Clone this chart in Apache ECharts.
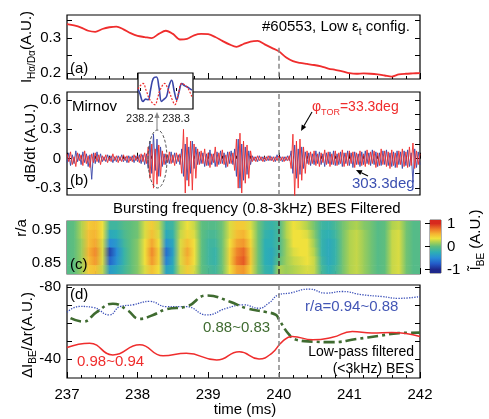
<!DOCTYPE html>
<html><head><meta charset="utf-8">
<script src="https://cdn.jsdelivr.net/npm/echarts@6/dist/echarts.min.js"></script>
<style>html,body{margin:0;padding:0;background:#fff}#c{width:489px;height:419px}</style>
</head><body><div id="c"></div>
<script>
// ---------------- DATA ----------------
const timeTicks = [237, 238, 239, 240, 241, 242];
const eventTime = 240;
const sampleTimes = [237.0,237.1,237.2,237.3,237.4,237.5,237.6,237.7,237.8,237.9,
  238.0,238.1,238.2,238.3,238.4,238.5,238.6,238.7,238.8,238.9,
  239.0,239.1,239.2,239.3,239.4,239.5,239.6,239.7,239.8,239.9,
  240.0,240.1,240.2,240.3,240.4,240.5,240.6,240.7,240.8,240.9,
  241.0,241.1,241.2,241.3,241.4,241.5,241.6,241.7,241.8,241.9,242.0];
// (a) H-alpha / D-alpha
const halphaSignal = [0.340,0.336,0.330,0.321,0.318,0.326,0.331,0.333,0.325,0.314,
  0.306,0.303,0.300,0.312,0.321,0.312,0.296,0.298,0.308,0.312,
  0.311,0.303,0.292,0.282,0.275,0.283,0.290,0.292,0.282,0.272,
  0.262,0.245,0.234,0.229,0.226,0.223,0.219,0.213,0.209,0.205,
  0.200,0.198,0.199,0.198,0.196,0.193,0.190,0.196,0.198,0.199,0.200];
// (b) Mirnov dB/dt, sampled from 237.0 ms every 0.025 ms
const mirnovStart = 237.0, mirnovStep = 0.025;
const mirnovRed = [0.05,-0.03,0.07,-0.06,0.02,-0.08,0.06,-0.02,0.04,-0.07,0.08,-0.05,0.03,-0.09,0.05,-0.04,0.06,-0.03,0.04,-0.06,
  0.03,-0.02,0.04,-0.04,0.02,-0.03,0.05,-0.02,0.03,-0.04,0.02,-0.03,0.04,-0.02,0.03,-0.04,0.02,-0.03,0.04,-0.02,
  0.03,-0.04,0.05,-0.03,0.06,-0.05,
  0.12,-0.2,0.15,-0.3,0.1,-0.26,0.14,-0.18,0.08,
  -0.06,0.05,-0.04,0.07,-0.05,0.04,-0.07,0.06,-0.03,0.05,
  -0.15,0.3,-0.35,0.22,-0.28,0.18,-0.32,0.15,-0.2,0.1,
  -0.06,0.08,-0.05,0.1,-0.07,0.06,-0.09,0.05,-0.04,0.12,-0.08,0.06,-0.05,0.09,-0.06,0.04,-0.08,0.07,-0.05,0.06,
  -0.12,0.2,-0.3,0.26,-0.35,0.18,-0.25,0.14,-0.2,0.08,
  -0.03,0.02,-0.03,0.03,-0.02,0.02,-0.03,0.02,-0.02,0.03,-0.02,0.02,-0.03,0.02,-0.02,0.03,-0.02,0.02,-0.03,0.02,-0.02,0.03,
  -0.1,0.25,-0.38,0.18,-0.3,0.2,-0.22,0.12,-0.15,0.08,
  -0.06,0.07,-0.05,0.08,-0.07,0.05,-0.08,0.06,-0.04,0.09,
  -0.06,0.07,-0.08,0.05,-0.06,0.08,-0.07,0.06,-0.05,0.09,
  -0.08,0.06,-0.07,0.08,-0.05,0.07,-0.09,0.06,-0.06,0.08,
  -0.07,0.05,-0.08,0.09,-0.06,0.07,-0.05,0.08,-0.09,0.06,
  -0.07,0.1,-0.06,0.08,-0.08,0.07,-0.1,0.09,-0.07,0.06,
  -0.09,0.08,-0.06,0.1,-0.08,0.07,-0.09,0.12,-0.07,0.16,
  -0.1,0.08,-0.06,0.05];
const mirnovBlue = [-0.04,0.06,-0.07,0.04,-0.05,0.08,-0.03,0.05,-0.06,0.07,-0.04,0.05,-0.08,0.04,-0.21,0.06,-0.05,0.07,-0.04,0.05,
  -0.03,0.02,-0.03,0.04,-0.02,0.03,-0.04,0.02,-0.03,0.03,-0.02,0.04,-0.03,0.02,-0.04,0.03,-0.02,0.03,-0.04,0.03,
  -0.03,0.04,-0.05,0.04,-0.06,0.05,
  -0.1,0.18,-0.15,0.25,-0.12,0.2,-0.18,0.12,-0.08,
  0.05,-0.06,0.04,-0.05,0.07,-0.04,0.06,-0.05,0.04,-0.06,
  0.1,-0.18,0.15,-0.22,0.12,-0.15,0.18,-0.1,0.12,-0.06,
  0.07,-0.05,0.06,-0.08,0.05,-0.07,0.09,-0.06,0.05,-0.08,0.07,-0.06,0.08,-0.05,0.06,-0.09,0.07,-0.05,0.08,-0.06,
  0.1,-0.18,0.2,-0.3,0.15,-0.22,0.12,-0.16,0.08,-0.06,
  0.03,-0.02,0.02,-0.03,0.03,-0.02,0.02,-0.03,0.02,-0.02,0.03,-0.02,0.02,-0.03,0.04,-0.02,0.02,-0.03,0.02,-0.02,0.03,-0.02,
  0.08,-0.15,0.14,-0.2,0.1,-0.16,0.12,-0.1,0.07,-0.05,
  0.06,-0.07,0.05,-0.06,0.08,-0.05,0.07,-0.06,0.05,-0.08,
  0.06,-0.05,0.07,-0.06,0.08,-0.07,0.05,-0.06,0.07,-0.08,
  0.06,-0.05,0.08,-0.07,0.06,-0.09,0.07,-0.06,0.05,-0.08,
  0.07,-0.06,0.08,-0.05,0.06,-0.07,0.09,-0.06,0.07,-0.08,
  0.06,-0.07,0.08,-0.06,0.09,-0.07,0.06,-0.08,0.07,-0.09,
  0.08,-0.06,0.07,-0.1,0.08,-0.07,0.09,-0.08,0.06,-0.24,
  0.1,-0.09,0.07,-0.06];
// inset (zoom of Mirnov burst), [time, normalised signal]
const insetRed = [[238.195,0.1],[238.199,0.24],[238.209,0.42],[238.218,0.0],[238.228,-0.49],[238.242,-0.76],[238.249,-0.4],[238.256,0.05],[238.269,0.42],[238.276,0.2],[238.283,-0.13],[238.29,-0.5],[238.297,-0.76],[238.306,-0.2],[238.316,0.42],[238.33,0.24],[238.337,0.0],[238.344,-0.31]];
const insetBlue = [[238.195,0.1],[238.2,-0.13],[238.209,-0.58],[238.216,-0.45],[238.223,-0.49],[238.23,0.1],[238.237,0.69],[238.246,0.78],[238.253,0.2],[238.26,-0.58],[238.267,-0.45],[238.274,-0.31],[238.281,0.3],[238.288,0.6],[238.295,0.0],[238.302,-0.49],[238.309,0.0],[238.316,0.42],[238.323,0.3],[238.33,0.24],[238.337,0.15],[238.344,0.05]];
const insetTicks = [238.2, 238.3];
// (c) BES filtered, rows from r/a 0.963 (top) to 0.830 (bottom), columns = sampleTimes
const heatRadius = [0.9636, 0.9369, 0.9102, 0.8835, 0.8568, 0.8301];
const heatRows = [
  [-0.05,0,0.2,0.45,0.5,0.35,-0.15,-0.15,-0.05,0, 0.05,0.3,0.45,0.25,-0.2,-0.15,0.2,0.35,0.25,0, -0.05,-0.05,0.05,0.3,0.45,0.45,0.3,0.05,-0.15,-0.2, -0.1,0.2,0.35,0.3,0.2,0.05,-0.15,-0.2,-0.1,0.05, 0.15,0.2,0.1,0.05,-0.05,0,0.2,0.25,0.05,-0.05, -0.05],
  [-0.05,0,0.2,0.5,0.55,0.35,-0.3,-0.25,-0.1,0, 0.05,0.3,0.5,0.3,-0.3,-0.2,0.25,0.4,0.3,0, -0.1,-0.1,0.05,0.3,0.5,0.55,0.35,0.05,-0.2,-0.25, -0.1,0.2,0.35,0.35,0.3,0.1,-0.2,-0.25,-0.15,0.05, 0.2,0.25,0.15,0.05,-0.05,0,0.25,0.3,0.05,-0.05, -0.05],
  [-0.05,0,0.15,0.5,0.6,0.3,-0.5,-0.4,-0.15,0, 0.1,0.35,0.6,0.35,-0.45,-0.3,0.3,0.5,0.35,0, -0.15,-0.15,0.05,0.35,0.6,0.65,0.4,0.05,-0.25,-0.25, -0.1,0.15,0.35,0.35,0.35,0.15,-0.2,-0.3,-0.2,0.05, 0.2,0.25,0.15,0.05,-0.05,0,0.25,0.3,0.05,-0.05, -0.05],
  [-0.05,0,0.15,0.55,0.7,0.3,-0.85,-0.5,-0.2,0, 0.1,0.35,0.7,0.4,-0.65,-0.35,0.3,0.6,0.35,0, -0.15,-0.2,0.05,0.4,0.7,0.8,0.45,0.05,-0.25,-0.3, -0.1,0.15,0.3,0.35,0.35,0.2,-0.2,-0.3,-0.2,0.05, 0.2,0.25,0.15,0.05,-0.05,0,0.25,0.3,0.05,-0.05, -0.05],
  [-0.05,0,0.15,0.5,0.65,0.3,-0.7,-0.45,-0.2,0, 0.1,0.35,0.65,0.4,-0.55,-0.3,0.3,0.55,0.35,0, -0.15,-0.2,0.05,0.4,0.75,0.85,0.45,0.05,-0.25,-0.3, 0,0.15,0.25,0.3,0.35,0.25,-0.15,-0.3,-0.2,0.05, 0.2,0.25,0.15,0.05,-0.05,0,0.25,0.3,0.05,-0.05, -0.05],
  [-0.05,0,0.15,0.45,0.5,0.25,-0.4,-0.3,-0.15,0, 0.1,0.3,0.5,0.35,-0.35,-0.25,0.25,0.45,0.3,0, -0.1,-0.15,0.05,0.35,0.6,0.65,0.4,0.05,-0.2,-0.25, 0.2,0.15,0.2,0.25,0.3,0.25,-0.1,-0.25,-0.15,0.05, 0.2,0.25,0.15,0.05,-0.05,0,0.25,0.3,0.05,-0.05, -0.05]
];
const colorbarTicks = [1, 0, -1];
// (d) low-pass filtered radial gradients, [time, value]
const gradBlue = [[237.0,-65.9],[237.18,-69.1],[237.37,-68.6],[237.6,-64.4],[237.75,-69],[237.93,-70],[238.17,-71.9],[238.41,-69],[238.69,-69],[238.98,-64.4],[239.26,-68.1],[239.5,-70],[239.72,-68.1],[239.86,-71],[240.0,-75.6],[240.15,-76.5],[240.43,-78.7],[240.67,-76.5],[240.9,-77.4],[241.18,-75.6],[241.46,-74.6],[241.7,-73.6],[242.0,-74.6]];
const gradGreen = [[237.05,-62.6],[237.23,-60.7],[237.42,-66],[237.65,-70.6],[237.85,-67.2],[238.03,-62.2],[238.22,-64.4],[238.41,-67.6],[238.69,-69],[238.98,-75.2],[239.3,-71.9],[239.54,-68.1],[239.82,-66],[239.96,-64.4],[240.0,-62],[240.15,-53.3],[240.25,-50.6],[240.48,-49.6],[240.76,-49.3],[241.1,-51],[241.42,-52.8],[241.7,-54.3],[242.0,-54.6]];
const gradRed = [[237.0,-46.3],[237.32,-48.7],[237.65,-42.2],[238.03,-47.8],[238.36,-41.7],[238.69,-43.1],[239.12,-39.4],[239.44,-44],[239.72,-40],[239.9,-43.1],[240.05,-49.6],[240.19,-52.4],[240.48,-50.6],[240.76,-52],[241.04,-55.2],[241.32,-54.3],[241.6,-54.6],[242.0,-52.4]];

// ---------------- STYLE ----------------
const FONT = 'Liberation Sans, Arial, Helvetica, sans-serif';
const RED = '#ef2d2d', BLUE = '#3a46a8', GREEN = '#3f6b30';
const stops = [[-1,[30,40,140]],[-0.75,[35,90,200]],[-0.5,[40,140,215]],[-0.25,[45,175,180]],[0,[95,190,125]],[0.2,[175,210,80]],[0.35,[240,225,60]],[0.55,[245,180,50]],[0.75,[238,120,40]],[1,[215,40,30]]];
function colorOf(v){
  if (v <= stops[0][0]) return 'rgb(' + stops[0][1].join(',') + ')';
  for (let i = 1; i < stops.length; i++) {
    if (v <= stops[i][0]) {
      const a = stops[i-1], b = stops[i], f = (v - a[0]) / (b[0] - a[0]);
      const c = a[1].map((x, k) => Math.round(x + (b[1][k] - x) * f));
      return 'rgb(' + c.join(',') + ')';
    }
  }
  return 'rgb(' + stops[stops.length-1][1].join(',') + ')';
}

const chart = echarts.init(document.getElementById('c'));

function grid(l, t, w, h, extra){ return Object.assign({left:l, top:t, width:w, height:h, show:true, borderColor:'#000', borderWidth:1.2, backgroundColor:'transparent', containLabel:false, outerBoundsMode:'none'}, extra||{}); }
function xAx(g, showLabels){ return {type:'value', gridIndex:g, min:237, max:242, interval:1,
  axisLine:{show:false}, splitLine:{show:false},
  axisTick:{show:true, inside:true, length:6, lineStyle:{color:'#000', width:1}},
  minorTick:{show:true, splitNumber:5, length:3, lineStyle:{color:'#000', width:1}},
  axisLabel:{show:showLabels, fontSize:15, color:'#000', fontFamily:FONT, margin:9, formatter: v => String(v)}}; }
function yAx(g, min, max, labels, ticks, pos, fmt, extra){ return Object.assign({type:'value', gridIndex:g, min, max, position:pos,
  axisLine:{show:false}, splitLine:{show:false},
  axisTick:{show:true, inside:true, length:5, customValues:ticks, lineStyle:{color:'#000'}},
  axisLabel:{show:!!labels, customValues:labels||[], fontSize:15, color:'#000', fontFamily:FONT, margin:6, formatter:fmt}}, extra||{}); }
const f1 = v => (Math.abs(v) < 1e-9 ? '0' : v.toFixed(1));
const f2 = v => v.toFixed(2);
const fi = v => String(Math.round(v));

const heatHalf = 0.01335;
const heatData = [];
heatRows.forEach((row, j) => {
  for (let i = 0; i < sampleTimes.length - 1; i++) heatData.push([sampleTimes[i], sampleTimes[i+1], heatRadius[j], row[i], row[i+1]]);
});

const dashLine = (color, data) => ({silent:true, symbol:['none','none'], label:{show:false}, lineStyle:{color, type:[5,3], width:1.5}, data});

// ---------------- GRAPHICS (labels / annotations) ----------------
function txt(x, y, text, o){ return {type:'text', x, y, z:100, style:Object.assign({text, fill:'#000', fontSize:15, fontFamily:FONT, align:'left', verticalAlign:'middle'}, o||{})}; }
function rot(x, y, text, rich){ return {type:'text', x, y, z:100, rotation:Math.PI/2, style:{text, rich, fill:'#000', fontSize:15, fontFamily:FONT, align:'center', verticalAlign:'middle'}}; }
function arrow(x1, y1, x2, y2, color){
  const a = Math.atan2(y2-y1, x2-x1), L = 6, W = 2.6;
  const bx = x2 - L*Math.cos(a), by = y2 - L*Math.sin(a);
  const px = -Math.sin(a)*W, py = Math.cos(a)*W;
  return [
    {type:'line', z:100, shape:{x1, y1, x2:bx, y2:by}, style:{stroke:color, lineWidth:1.1}},
    {type:'polygon', z:100, shape:{points:[[x2,y2],[bx+px,by+py],[bx-px,by-py]]}, style:{fill:color}}
  ];
}
const mainR = c => ({m:{fontSize:15, lineHeight:20, fontFamily:FONT, fill:c}, s:{fontSize:10, lineHeight:10, verticalAlign:'bottom', fontFamily:FONT, fill:c}});
const graphics = [
  txt(262, 27, '{m|#60553, Low ε}{s|t}{m| config.}', {rich:mainR('#000')}),
  txt(70, 69, '(a)'),
  txt(72, 107, 'Mirnov'),
  txt(70, 181, '(b)'),
  txt(70, 265, '(c)'),
  txt(70, 295, '(d)'),
  txt(113, 209, 'Bursting frequency (0.8-3kHz) BES Filtered'),
  txt(312, 107, '{m|φ}{s|TOR}{m|=33.3deg}', {rich:{m:{fontSize:14, lineHeight:20, fontFamily:FONT, fill:RED}, s:{fontSize:9, lineHeight:9, verticalAlign:'bottom', fontFamily:FONT, fill:RED}}}),
  txt(352, 184, '303.3deg', {fill:'#3b4fb0'}),
  txt(305, 307, 'r/a=0.94~0.88', {fill:'#4356b5'}),
  txt(203, 328, '0.88~0.83', {fill:GREEN}),
  txt(77, 362, '0.98~0.94', {fill:RED}),
  txt(414, 352, 'Low-pass filtered', {align:'right', fontSize:14}),
  txt(414, 369, '(<3kHz) BES', {align:'right', fontSize:14}),
  txt(245, 410, 'time (ms)', {align:'center'}),
  rot(27, 47, '{m|I}{s|Hα/Dα}{m|(A.U.)}', mainR('#000')),
  rot(31, 143, 'dB/dt (A.U.)'),
  rot(22, 228, 'r/a'),
  rot(28, 335, '{m|ΔI}{s|BE}{m|/Δr(A.U.)}', mainR('#000')),
  rot(476, 240, '{m|Ĩ}{s|BE}{m| (A.U.)}', mainR('#000')),
  {type:'ellipse', z:100, shape:{cx:157.5, cy:159, rx:9.5, ry:29}, style:{fill:'none', stroke:'#555', lineWidth:1, lineDash:[3,2]}}
].concat(arrow(312, 112, 301, 131, '#000'), arrow(368, 176, 356, 170, '#000'), arrow(157, 131, 157, 112, '#888'));

// ---------------- OPTION ----------------
const option = {
  animation:false,
  backgroundColor:'#fff',
  textStyle:{fontFamily:FONT},
  grid:[
    grid(67, 15, 353, 64),
    grid(67, 92, 353, 103),
    grid(138, 73, 55, 36, {backgroundColor:'#fff', z:5}),
    grid(67, 221, 353, 53, {borderColor:'#555'}),
    grid(67, 285, 353, 93),
    grid(430, 220, 11, 53, {borderColor:'#666', borderWidth:1})
  ],
  xAxis:[
    xAx(0, false), xAx(1, false),
    {type:'value', gridIndex:2, min:238.195, max:238.347, z:6, axisLine:{show:false}, splitLine:{show:false},
      axisTick:{show:true, inside:true, length:3, customValues:insetTicks, lineStyle:{color:'#000'}},
      axisLabel:{show:true, customValues:insetTicks, fontSize:11, color:'#222', fontFamily:FONT, margin:4, formatter:v => v.toFixed(1)}},
    xAx(3, false), xAx(4, true),
    {type:'value', gridIndex:5, min:0, max:1, show:false}
  ],
  yAxis:[
    yAx(0, 0.183, 0.366, [0.2, 0.3], [0.2, 0.25, 0.3, 0.35], 'left', f1),
    yAx(0, 0.183, 0.366, null, [0.2, 0.25, 0.3, 0.35], 'right', f1),
    yAx(1, -0.37, 0.68, [-0.3, 0, 0.3, 0.6], [-0.3, 0, 0.3, 0.6], 'left', f1),
    yAx(1, -0.37, 0.68, null, [-0.3, -0.15, 0, 0.15, 0.3, 0.45, 0.6], 'right', f1),
    {type:'value', gridIndex:2, min:-1, max:1, show:false},
    yAx(3, 0.817, 0.977, [0.85, 0.95], [0.85, 0.9, 0.95], 'left', f2),
    yAx(3, 0.817, 0.977, null, [0.85, 0.9, 0.95], 'right', f2),
    yAx(4, -81, -29.4, [-80, -40], [-80, -70, -60, -50, -40], 'left', fi, {inverse:true}),
    yAx(4, -81, -29.4, null, [-80, -70, -60, -50, -40], 'right', fi, {inverse:true}),
    yAx(5, -1.15, 1.15, colorbarTicks, colorbarTicks, 'right', fi, {})
  ],
  series:[
    {type:'line', xAxisIndex:0, yAxisIndex:0, data:sampleTimes.map((t, i) => [t, halphaSignal[i]]), smooth:0.3, showSymbol:false, lineStyle:{color:RED, width:1.8},
      markLine:dashLine('#888', [[{coord:[eventTime, 0.272]}, {coord:[eventTime, 0.183]}]])},
    {type:'line', xAxisIndex:1, yAxisIndex:2, data:mirnovBlue.map((v, i) => [mirnovStart + i*mirnovStep, v]), showSymbol:false, lineStyle:{color:BLUE, width:0.9}},
    {type:'line', xAxisIndex:1, yAxisIndex:2, data:mirnovRed.map((v, i) => [mirnovStart + i*mirnovStep, v]), showSymbol:false, lineStyle:{color:RED, width:0.9},
      markLine:dashLine('#888', [{xAxis:eventTime}])},
    {type:'line', xAxisIndex:2, yAxisIndex:4, z:7, data:insetBlue, smooth:0.4, showSymbol:false, lineStyle:{color:BLUE, width:1.6}},
    {type:'line', xAxisIndex:2, yAxisIndex:4, z:7, data:insetRed, smooth:0.4, showSymbol:false, lineStyle:{color:RED, width:1.2, type:[2,1.5]}},
    {type:'custom', xAxisIndex:3, yAxisIndex:5, data:heatData, encode:{x:[0,1], y:2}, clip:true, silent:true,
      renderItem:(params, api) => {
        const p0 = api.coord([api.value(0), api.value(2) + heatHalf]);
        const p1 = api.coord([api.value(1), api.value(2) - heatHalf]);
        return {type:'rect', shape:{x:p0[0], y:p0[1], width:p1[0]-p0[0]+0.6, height:p1[1]-p0[1]+0.6},
          style:{fill:new echarts.graphic.LinearGradient(0, 0, 1, 0, [{offset:0, color:colorOf(api.value(3))}, {offset:1, color:colorOf(api.value(4))}])}};
      }},
    {type:'line', xAxisIndex:3, yAxisIndex:5, data:[], z:5, markLine:dashLine('#333', [{xAxis:eventTime}])},
    {type:'custom', xAxisIndex:5, yAxisIndex:9, data:[[0, 1, -1.15, 1.15]], encode:{x:[0,1], y:[2,3]}, silent:true,
      renderItem:(params, api) => {
        const p0 = api.coord([api.value(0), api.value(3)]);
        const p1 = api.coord([api.value(1), api.value(2)]);
        const span = api.value(3) - api.value(2);
        const cs = stops.map(s => ({offset:(api.value(3) - s[0]) / span, color:colorOf(s[0])})).reverse();
        cs.unshift({offset:0, color:colorOf(1)}); cs.push({offset:1, color:colorOf(-1)});
        cs.sort((a, b) => a.offset - b.offset);
        return {type:'rect', shape:{x:p0[0], y:p0[1], width:p1[0]-p0[0], height:p1[1]-p0[1]},
          style:{fill:new echarts.graphic.LinearGradient(0, 0, 0, 1, cs)}};
      }},
    {type:'line', xAxisIndex:4, yAxisIndex:7, data:gradBlue, smooth:0.5, showSymbol:false, lineStyle:{color:'#3a4fb8', width:1.3, type:'dotted'}},
    {type:'line', xAxisIndex:4, yAxisIndex:7, data:gradGreen, smooth:0.5, showSymbol:false, lineStyle:{color:GREEN, width:2.6, type:[11,4,3,4]}},
    {type:'line', xAxisIndex:4, yAxisIndex:7, data:gradRed, smooth:0.5, showSymbol:false, lineStyle:{color:RED, width:1.5},
      markLine:dashLine('#888', [{xAxis:eventTime}])}
  ],
  graphic:{elements:graphics}
};
chart.setOption(option);
</script></body></html>
